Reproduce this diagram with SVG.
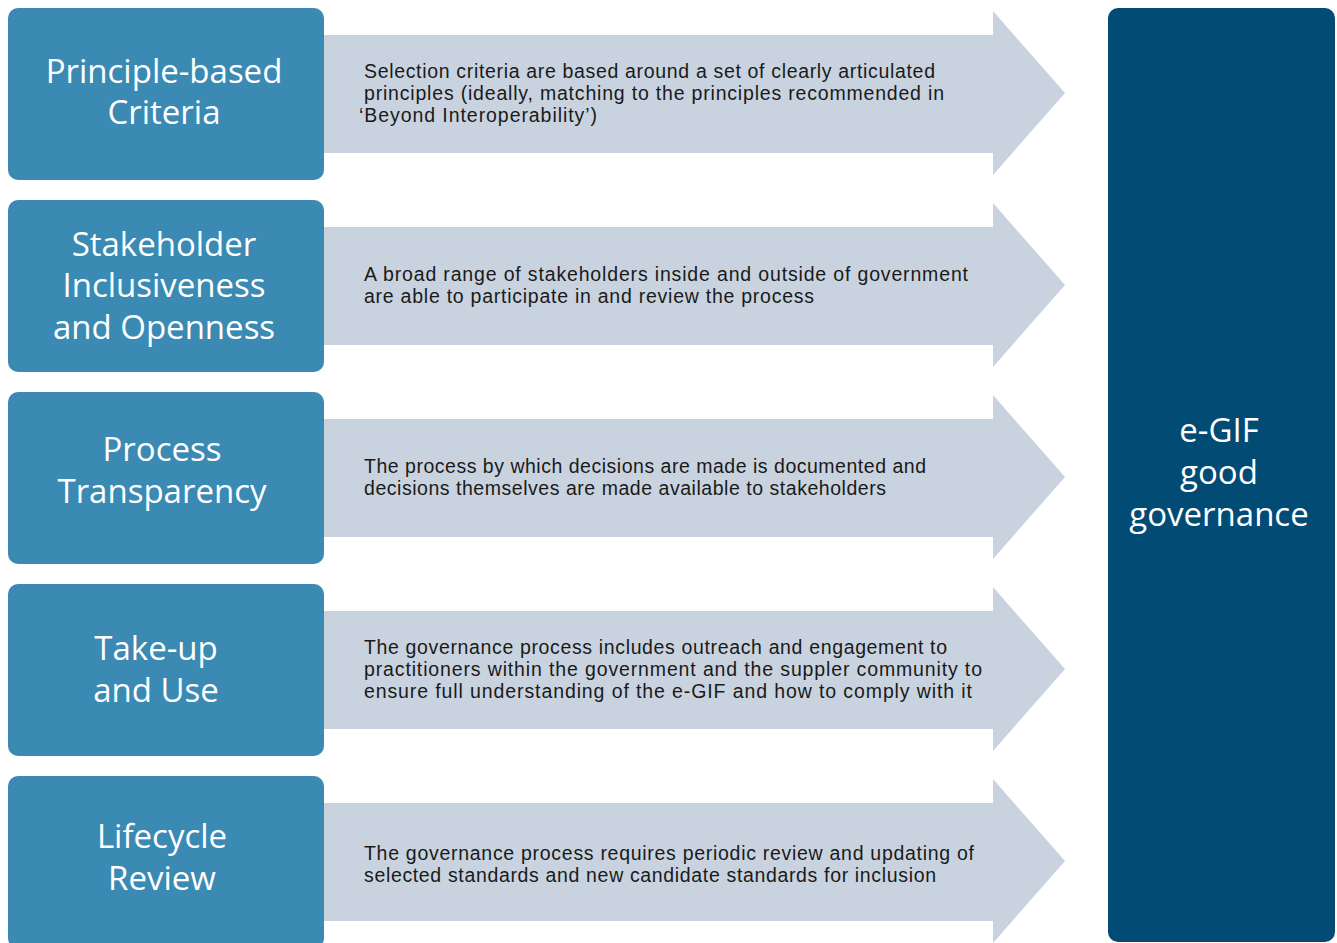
<svg xmlns="http://www.w3.org/2000/svg" width="1337" height="943" viewBox="0 0 1337 943">
<defs>
<style>
.box{fill:#3a8ab4;}
.arr{fill:#c9d3df;}
.hub{fill:#024b75;}
.t{font-family:"Open Sans","Noto Sans",sans-serif;font-size:33px;fill:#ffffff;text-anchor:middle;}
.d{font-family:"Liberation Sans",Arial,sans-serif;font-size:19.5px;fill:#1a1a1a;}
</style>
<path id="arrowShape" d="M0 27 H669 V3 L741 85 L669 167 V145 H0 Z"/>
</defs>
<rect width="1337" height="943" fill="#ffffff"/>
<g id="connectors">
<use href="#arrowShape" class="arr" x="324" y="8"/>
<use href="#arrowShape" class="arr" x="324" y="200"/>
<use href="#arrowShape" class="arr" x="324" y="392"/>
<use href="#arrowShape" class="arr" x="324" y="584"/>
<use href="#arrowShape" class="arr" x="324" y="776"/>
</g>
<g id="desc1"><text class="d" x="364" y="78" textLength="571" lengthAdjust="spacing">Selection criteria are based around a set of clearly articulated</text><text class="d" x="364" y="100" textLength="580" lengthAdjust="spacing">principles (ideally, matching to the principles recommended in</text><text class="d" x="359" y="122" textLength="238" lengthAdjust="spacing">‘Beyond Interoperability’)</text></g>
<g id="desc2"><text class="d" x="364" y="281" textLength="604" lengthAdjust="spacing">A broad range of stakeholders inside and outside of government</text><text class="d" x="364" y="303" textLength="450" lengthAdjust="spacing">are able to participate in and review the process</text></g>
<g id="desc3"><text class="d" x="364" y="473" textLength="562" lengthAdjust="spacing">The process by which decisions are made is documented and</text><text class="d" x="364" y="495" textLength="522" lengthAdjust="spacing">decisions themselves are made available to stakeholders</text></g>
<g id="desc4"><text class="d" x="364" y="654" textLength="583" lengthAdjust="spacing">The governance process includes outreach and engagement to</text><text class="d" x="364" y="676" textLength="618" lengthAdjust="spacing">practitioners within the government and the suppler community to</text><text class="d" x="364" y="698" textLength="608" lengthAdjust="spacing">ensure full understanding of the e-GIF and how to comply with it</text></g>
<g id="desc5"><text class="d" x="364" y="860" textLength="610" lengthAdjust="spacing">The governance process requires periodic review and updating of</text><text class="d" x="364" y="882" textLength="572" lengthAdjust="spacing">selected standards and new candidate standards for inclusion</text></g>
<g id="node1"><rect class="box" x="8" y="8" width="316" height="172" rx="10"/><text class="t" x="164" y="83">Principle-based</text><text class="t" x="164" y="124">Criteria</text></g>
<g id="node2"><rect class="box" x="8" y="200" width="316" height="172" rx="10"/><text class="t" x="164" y="256">Stakeholder</text><text class="t" x="164" y="297">Inclusiveness</text><text class="t" x="164" y="339">and Openness</text></g>
<g id="node3"><rect class="box" x="8" y="392" width="316" height="172" rx="10"/><text class="t" x="162" y="461">Process</text><text class="t" x="162" y="503">Transparency</text></g>
<g id="node4"><rect class="box" x="8" y="584" width="316" height="172" rx="10"/><text class="t" x="156" y="660">Take-up</text><text class="t" x="156" y="702">and Use</text></g>
<g id="node5"><rect class="box" x="8" y="776" width="316" height="172" rx="10"/><text class="t" x="162" y="848">Lifecycle</text><text class="t" x="162" y="890">Review</text></g>
<g id="hub"><rect class="hub" x="1108" y="8" width="227" height="934" rx="10"/><text class="t" x="1219" y="442">e-GIF</text><text class="t" x="1219" y="484">good</text><text class="t" x="1219" y="526">governance</text></g>
</svg>
